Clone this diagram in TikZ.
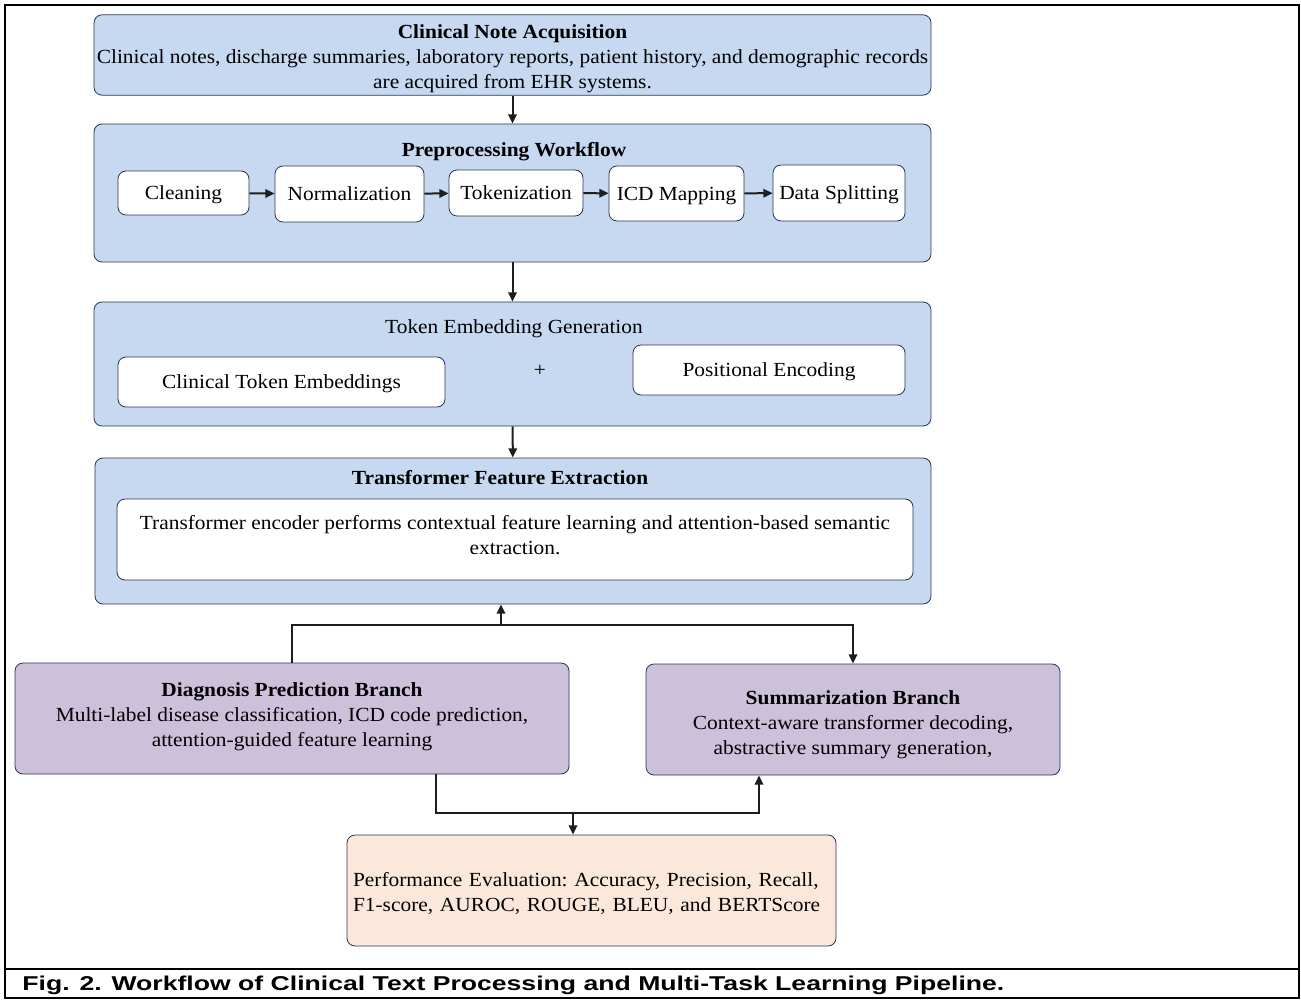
\documentclass[tikz,border=0pt]{standalone}
\usepackage{fontspec}
\usepackage{tikz}
\usetikzlibrary{arrows.meta,positioning}
\setmainfont[FakeStretch=1.07]{Liberation Serif}
\newfontfamily\capfont[FakeStretch=1.33]{Liberation Sans}
\definecolor{cnblue}{HTML}{C6D9F0}
\definecolor{cnpurple}{HTML}{CCC0DA}
\definecolor{cnpeach}{HTML}{FCE8DA}
\definecolor{cnedge}{HTML}{2C3652}
\definecolor{cnarrow}{HTML}{1E1E1E}

\begin{document}
\begin{tikzpicture}[x=0.5pt,y=-0.5pt,
 font=\fontsize{10}{12.5}\selectfont,
 stagebox/.style={draw=cnedge,fill=cnblue,rounded corners=4pt,align=center,inner sep=1pt},
 stepbox/.style={draw=cnedge,fill=white,rounded corners=4pt,align=center,inner sep=1pt,text height=9pt,text depth=2.2pt},
 branchbox/.style={draw=cnedge,fill=cnpurple,rounded corners=4pt,align=center,inner sep=1pt,minimum height=55.5pt},
 flowarrow/.style={-{Triangle[length=4.6pt,width=4.2pt]},line width=1pt,draw=cnarrow},
 flowline/.style={line width=1pt,draw=cnarrow}
]
\useasboundingbox (0,0) rectangle (1301,1000);
\draw[line width=1pt] (5,5) rectangle (1299,998);
\draw[line width=1.3pt] (5,969) -- (1299,969);
% acquisition
\node[stagebox,minimum width=418.5pt,minimum height=40pt] (acq) at (512.5,55)
  {\rule{0pt}{11pt}\textbf{Clinical Note Acquisition}\\Clinical notes, discharge summaries, laboratory reports, patient history, and demographic records\\are acquired from EHR systems.};
% preprocessing
\node[stagebox,minimum width=418.5pt,minimum height=69pt] (pre) at (512.5,193) {};
\node (pretitle) at (514,152) {\textbf{Preprocessing Workflow}};
\node[stepbox,minimum width=65.5pt,minimum height=22pt] (clean) at (183.5,193) {Cleaning};
\node[stepbox,minimum width=74.5pt,minimum height=28pt] (norm) at (349.5,194) {Normalization};
\node[stepbox,minimum width=67pt,minimum height=23pt] (token) at (516,193) {Tokenization};
\node[stepbox,minimum width=67.5pt,minimum height=27.5pt] (icd) at (676.5,193.5) {ICD Mapping};
\node[stepbox,minimum width=66pt,minimum height=28pt] (split) at (839,193) {Data Splitting};
\draw[flowarrow] (clean) -- (norm);
\draw[flowarrow] (norm) -- (token);
\draw[flowarrow] (token) -- (icd);
\draw[flowarrow] (icd) -- (split);
% embeddings
\node[stagebox,minimum width=418.5pt,minimum height=62pt] (emb) at (512.5,364) {};
\node (embtitle) at (514,329) {Token Embedding Generation};
\node[stepbox,minimum width=163.5pt,minimum height=25pt] (tokemb) at (281.5,382) {Clinical Token Embeddings};
\node (plus) at (540,371) {+};
\node[stepbox,minimum width=136pt,minimum height=25pt] (posenc) at (769,370) {Positional Encoding};
% transformer
\node[stagebox,minimum width=418pt,minimum height=73pt] (trans) at (513,531) {};
\node (transtitle) at (500,478) {\textbf{Transformer Feature Extraction}};
\node[draw=cnedge,fill=white,rounded corners=4pt,align=center,inner sep=1pt,minimum width=398pt,minimum height=40.5pt] (encoder) at (515,539.5)
  {Transformer encoder performs contextual feature learning and attention-based semantic\\extraction.\\[-8pt]};
\draw[flowarrow] (acq) -- (pre);
\draw[flowarrow] (pre) -- (emb);
\draw[flowarrow] (emb) -- (trans);
% branches
\node[branchbox,minimum width=277pt] (diag) at (292,718.5)
  {\textbf{Diagnosis Prediction Branch}\\Multi-label disease classification, ICD code prediction,\\attention-guided feature learning\\[-9pt]};
\node[branchbox,minimum width=207pt] (summ) at (853,719.5)
  {\rule{0pt}{12pt}\textbf{Summarization Branch}\\Context-aware transformer decoding,\\abstractive summary generation,};
\node[draw=cnedge,fill=cnpeach,rounded corners=4pt,minimum width=244.5pt,minimum height=55.5pt,
  text width=238.5pt,align=left,inner sep=3pt,font=\frenchspacing\fontsize{10}{12.5}\selectfont] (eval) at (591.5,890.5)
  {\rule{0pt}{10pt}Performance Evaluation: Accuracy, Precision, Recall,\\F1-score, AUROC, ROUGE, BLEU, and BERTScore};
\coordinate (jtop) at (501,625);
\coordinate (jbot) at (573,813);
\draw[flowarrow] (diag.north) |- (jtop) -| (summ.north);
\draw[flowarrow] (jtop) -- (jtop |- trans.south);
\draw[flowline] ([xshift=72pt]diag.south) |- (jbot);
\draw[flowarrow] (jbot) -- (jbot |- eval.north);
\draw[flowarrow] (jbot) -| ([xshift=-47pt]summ.south);
% caption
\node[anchor=west,font=\capfont\bfseries\fontsize{10}{12}\selectfont,inner sep=0pt] (caption) at (22,985)
  {Fig. 2. Workflow of Clinical Text Processing and Multi-Task Learning Pipeline.};
\end{tikzpicture}
\end{document}
